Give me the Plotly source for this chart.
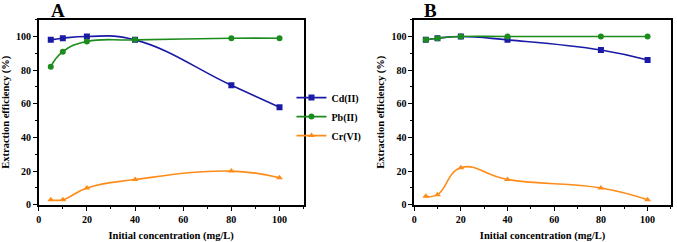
import plotly.graph_objects as go

conc = [5, 10, 20, 40, 80, 100]
a_cd = [98, 99, 100, 98, 71, 58]
a_pb = [82, 91, 97, 98, 99, 99]
a_cr = [3, 3, 10, 15, 20, 16]
b_cd = [98, 99, 100, 98, 92, 86]
b_pb = [98, 99, 100, 100, 100, 100]
b_cr = [5, 6, 22, 15, 10, 3]

names = ["Cd(II)", "Pb(II)", "Cr(VI)"]
colors = ["#1a1aa6", "#1c8c1c", "#ff8c1a"]
symbols = ["square", "circle", "triangle-up"]

fig = go.Figure()
for panel, data in (("1", [a_cd, a_pb, a_cr]), ("2", [b_cd, b_pb, b_cr])):
    for i, ys in enumerate(data):
        fig.add_trace(go.Scatter(
            x=conc, y=ys, mode="lines+markers", name=names[i],
            line=dict(color=colors[i], width=1.6, shape="spline", smoothing=1.3),
            marker=dict(symbol=symbols[i], size=6, color=colors[i]),
            xaxis="x" if panel == "1" else "x2",
            yaxis="y" if panel == "1" else "y2",
            showlegend=(panel == "1"),
        ))

font = dict(family="Liberation Serif", size=10, color="black")
axcommon = dict(showline=True, linecolor="black", linewidth=1.5, mirror=True,
                ticks="outside", ticklen=4, tickwidth=1, tickcolor="black",
                showgrid=False, zeroline=False,
                tickfont=dict(family="Liberation Serif", size=10, color="black", weight="bold"),
                minor=dict(ticks="outside", ticklen=2, tickcolor="black", dtick=10))
xt = dict(text="<b>Initial concentration (mg/L)</b>", font=dict(family="Liberation Serif", size=10.5, color="black"), standoff=10)
yt = dict(text="<b>Extraction efficiency (%)</b>", font=dict(family="Liberation Serif", size=10.5, color="black"), standoff=5)

fig.update_layout(
    width=677, height=242, margin=dict(l=0, r=0, t=0, b=0),
    paper_bgcolor="white", plot_bgcolor="white", font=font,
    xaxis=dict(domain=[0.053, 0.446], range=[0, 110], tickvals=[0, 20, 40, 60, 80, 100], title=xt, anchor="y", **axcommon),
    yaxis=dict(domain=[0.136, 0.917], range=[0, 110], tickvals=[0, 20, 40, 60, 80, 100], title=yt, anchor="x", **axcommon),
    xaxis2=dict(domain=[0.61, 0.991], range=[0, 110], tickvals=[0, 20, 40, 60, 80, 100], title=xt, anchor="y2", **axcommon),
    yaxis2=dict(domain=[0.136, 0.917], range=[0, 110], tickvals=[0, 20, 40, 60, 80, 100], title=yt, anchor="x2", **axcommon),
    legend=dict(x=0.428, y=0.508, xanchor="left", yanchor="middle", bgcolor="rgba(0,0,0,0)",
                font=dict(family="Liberation Serif", size=10, color="black", weight="bold"),
                tracegroupgap=0, itemwidth=30),
    annotations=[
        dict(text="<b>A</b>", x=0.068, y=1.01, xref="paper", yref="paper", xanchor="left", yanchor="top",
             showarrow=False, font=dict(family="Liberation Serif", size=19, color="black")),
        dict(text="<b>B</b>", x=0.622, y=1.01, xref="paper", yref="paper", xanchor="left", yanchor="top",
             showarrow=False, font=dict(family="Liberation Serif", size=19, color="black")),
    ],
)
fig.write_html("out.html")
